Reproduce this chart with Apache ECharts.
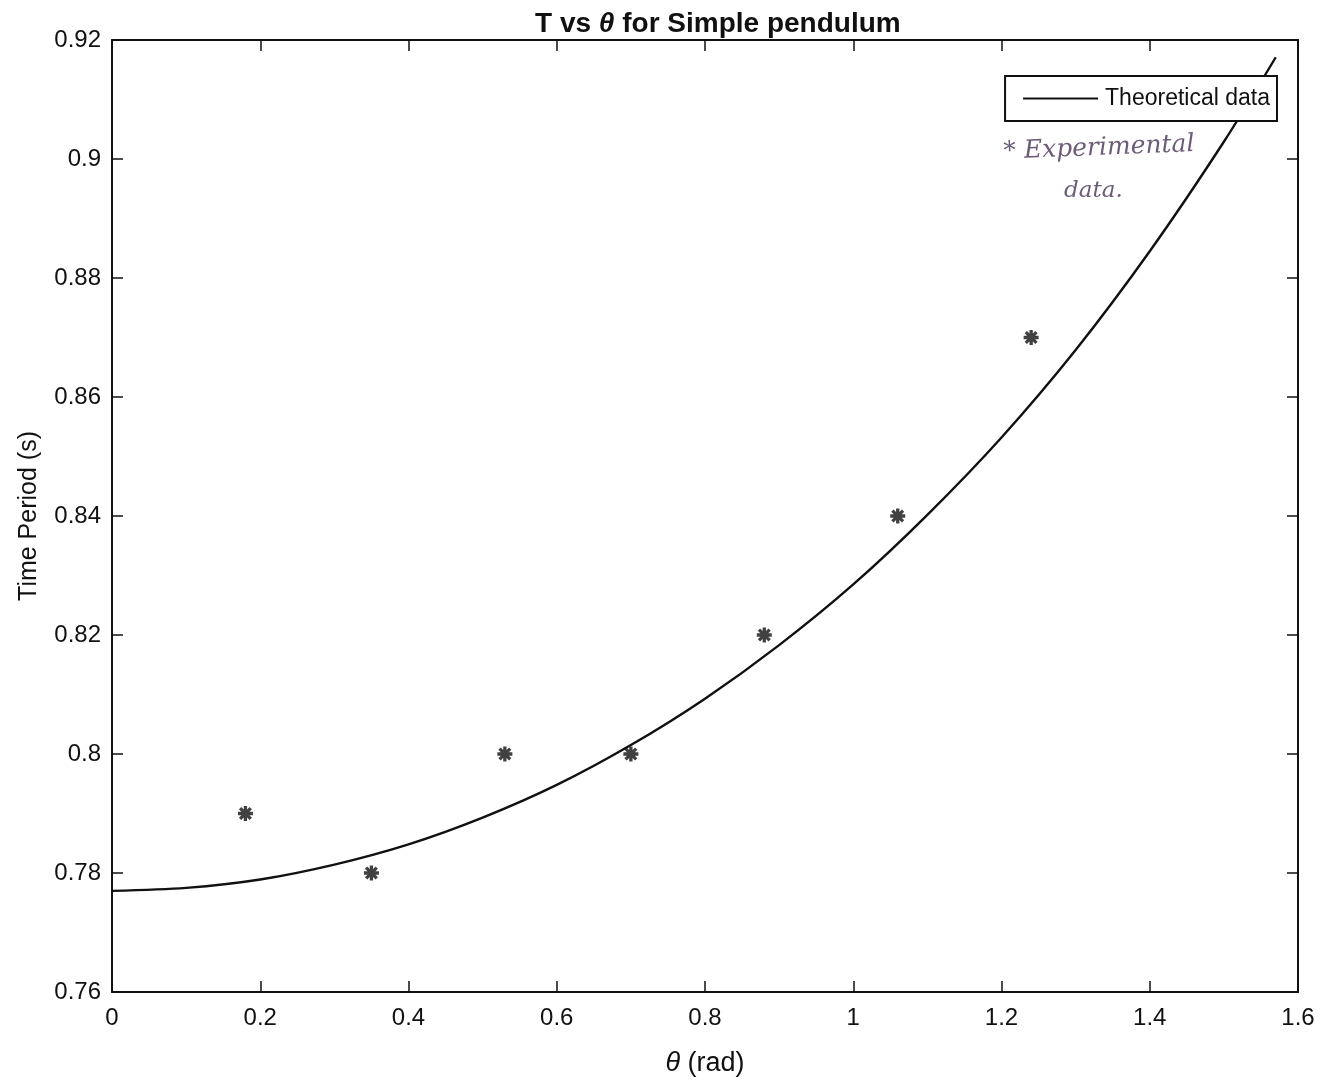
<!DOCTYPE html>
<html>
<head>
<meta charset="utf-8">
<style>
  html, body { margin: 0; padding: 0; background: #ffffff; }
  #chart { width: 1327px; height: 1088px; }
</style>
<script src="https://cdn.jsdelivr.net/npm/echarts@6/dist/echarts.min.js"></script>
</head>
<body>
<div id="chart"></div>
<script>
// Pendulum amplitude (rad) and measured period (s)
const expTheta = [0.18, 0.35, 0.53, 0.70, 0.88, 1.06, 1.24];
const expPeriod = [0.790, 0.780, 0.800, 0.800, 0.820, 0.840, 0.870];

// Theoretical period curve, sampled along the amplitude axis
const theoTheta = [0, 0.1, 0.2, 0.3, 0.4, 0.5, 0.6, 0.7, 0.8, 0.9, 1.0, 1.1, 1.2, 1.3, 1.4, 1.5, 1.57];
const theoPeriod = [0.7770, 0.7775, 0.7789, 0.7814, 0.7848, 0.7893, 0.7948, 0.8015, 0.8093, 0.8183,
                    0.8285, 0.8402, 0.8532, 0.8679, 0.8845, 0.9029, 0.9171];

const xTicks = [0, 0.2, 0.4, 0.6, 0.8, 1, 1.2, 1.4, 1.6];
const yTicks = [0.76, 0.78, 0.80, 0.82, 0.84, 0.86, 0.88, 0.90, 0.92];

const FONT = '"Liberation Sans", Arial, sans-serif';

const theoPairs = theoTheta.map((t, i) => [t, theoPeriod[i]]);
const expPairs = expTheta.map((t, i) => [t, expPeriod[i]]);

// '*' marker built from four bars
const asterisk = 'path://M-2,-9 L2,-9 L2,9 L-2,9 Z M-9,-2 L9,-2 L9,2 L-9,2 Z ' +
  'M-7.8,-5 L-5,-7.8 L7.8,5 L5,7.8 Z M5,-7.8 L7.8,-5 L-5,7.8 L-7.8,5 Z';

const tickLabel = v => (Math.round(v * 100) / 100).toString();

const chart = echarts.init(document.getElementById('chart'), null, { renderer: 'canvas' });

const baseX = {
  type: 'value', min: 0, max: 1.6, interval: 0.2,
  axisLine: { show: true, onZero: false, lineStyle: { color: '#111', width: 2 } },
  axisTick: { show: true, inside: true, length: 11, lineStyle: { color: '#111', width: 1.5 } },
  splitLine: { show: false }
};
const baseY = {
  type: 'value', min: 0.76, max: 0.92, interval: 0.02,
  axisLine: { show: true, onZero: false, lineStyle: { color: '#111', width: 2 } },
  axisTick: { show: true, inside: true, length: 11, lineStyle: { color: '#111', width: 1.5 } },
  splitLine: { show: false }
};

chart.setOption({
  backgroundColor: '#ffffff',
  animation: false,
  title: {
    text: '{b|T vs }{i|θ}{b| for Simple pendulum}',
    left: 530,
    top: 5,
    textStyle: {
      rich: {
        b: { fontFamily: FONT, fontSize: 28, fontWeight: 'bold', color: '#111' },
        i: { fontFamily: FONT, fontSize: 28, fontStyle: 'italic', color: '#111' }
      }
    }
  },
  grid: { left: 112, right: 29, top: 40, bottom: 96, containLabel: false },
  legend: {
    data: [{ name: 'Theoretical data', icon: 'rect' }],
    right: 50,
    top: 76,
    orient: 'horizontal',
    backgroundColor: '#ffffff',
    borderColor: '#111',
    borderWidth: 2,
    borderRadius: 0,
    padding: [11, 7, 11, 18],
    itemWidth: 75,
    itemHeight: 2,
    itemGap: 10,
    textStyle: { fontFamily: FONT, fontSize: 23, color: '#111', padding: [0, 0, 0, 2] }
  },
  xAxis: [
    Object.assign({}, baseX, {
      position: 'bottom',
      name: '{i|θ}{n| (rad)}',
      nameLocation: 'middle',
      nameGap: 58,
      nameTextStyle: {
        rich: {
          i: { fontFamily: FONT, fontSize: 27, fontStyle: 'italic', color: '#111' },
          n: { fontFamily: FONT, fontSize: 27, color: '#111' }
        }
      },
      axisLabel: {
        show: true, margin: 14, fontFamily: FONT, fontSize: 24, color: '#111',
        formatter: v => (Math.round(v * 10) / 10).toString()
      }
    }),
    Object.assign({}, baseX, { position: 'top', axisLabel: { show: false } })
  ],
  yAxis: [
    Object.assign({}, baseY, {
      position: 'left',
      name: 'Time Period (s)',
      nameLocation: 'middle',
      nameGap: 70,
      nameTextStyle: { fontFamily: FONT, fontSize: 25, color: '#111' },
      axisLabel: {
        show: true, margin: 11, fontFamily: FONT, fontSize: 24, color: '#111',
        formatter: tickLabel
      }
    }),
    Object.assign({}, baseY, { position: 'right', axisLabel: { show: false } })
  ],
  series: [
    {
      name: 'Theoretical data',
      type: 'line',
      data: theoPairs,
      smooth: 0.3,
      symbol: 'none',
      lineStyle: { color: '#111', width: 2.4 },
      itemStyle: { color: '#111' },
      z: 3
    },
    {
      name: 'Experimental data',
      type: 'scatter',
      data: expPairs,
      symbol: asterisk,
      symbolSize: 15,
      itemStyle: { color: '#111' },
      z: 4
    }
  ],
  graphic: [
    {
      type: 'text',
      left: 1003,
      top: 132,
      rotation: 0.04,
      style: {
        text: '* Experimental',
        font: 'italic 25px "DejaVu Serif", serif',
        fill: '#6d5c78'
      }
    },
    {
      type: 'text',
      left: 1064,
      top: 180,
      style: {
        text: 'data.',
        font: 'italic 23px "DejaVu Serif", serif',
        fill: '#6d5c78'
      }
    }
  ]
});
</script>
</body>
</html>
